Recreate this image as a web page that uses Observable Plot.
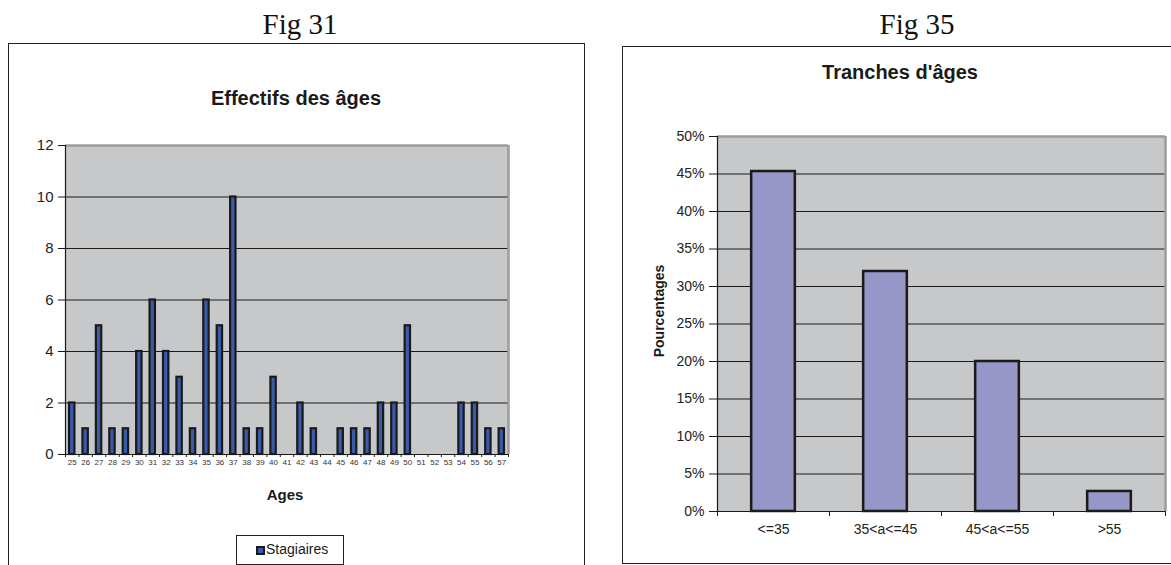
<!DOCTYPE html>
<html><head><meta charset="utf-8">
<script src="https://cdn.jsdelivr.net/npm/d3@7"></script>
<script src="https://cdn.jsdelivr.net/npm/@observablehq/plot@0.6"></script>
<style>
body{margin:0;background:#fff;width:1171px;height:565px;overflow:hidden;position:relative;font-family:"Liberation Sans",Arial,sans-serif;color:#1a1a1a}
.abs{position:absolute;white-space:nowrap}
.c{transform:translate(-50%,-50%)}
.fig{font-family:"Liberation Serif","Times New Roman",serif;font-size:29px;color:#111}
.panel{position:absolute;border:1.5px solid #222;box-sizing:border-box}
.title{font-weight:bold;font-size:20px}
</style></head><body>
<script>
// ---- data ----
const ages = [25,26,27,28,29,30,31,32,33,34,35,36,37,38,39,40,41,42,43,44,45,46,47,48,49,50,51,52,53,54,55,56,57];
const counts = [2,1,5,1,1,4,6,4,3,1,6,5,10,1,1,3,0,2,1,0,1,1,1,2,2,5,0,0,0,2,2,1,1];
const countTicks = [0,2,4,6,8,10,12];
const countGrid = [2,4,6,8,10];
const groups = ["<=35","35<a<=45","45<a<=55",">55"];
const shares = [0.4533,0.32,0.20,0.0267];
const shareTicks = [0,0.05,0.10,0.15,0.20,0.25,0.30,0.35,0.40,0.45,0.50];
const shareGrid = [0.05,0.10,0.15,0.20,0.25,0.30,0.35,0.40,0.45];

const FONT = "Liberation Sans, Arial, sans-serif";
const body = document.body;
function addDiv(cls, text, x, y, extra) {
  const d = document.createElement("div");
  d.className = cls;
  if (text != null) d.textContent = text;
  d.style.left = x + "px"; d.style.top = y + "px";
  if (extra) Object.assign(d.style, extra);
  body.appendChild(d);
  return d;
}

// ---- panels ----
addDiv("panel", null, 8, 43, {width: "577px", height: "540px"});
addDiv("panel", null, 622, 46, {width: "600px", height: "518px"});
addDiv("abs c fig", "Fig 31", 300, 24);
addDiv("abs c fig", "Fig 35", 917, 24);
addDiv("abs c title", "Effectifs des âges", 296, 98);
addDiv("abs c title", "Tranches d'âges", 900, 72);

// ---- left chart ----
const leftData = ages.map((a, i) => ({age: a, count: counts[i]}));
const lo = ages[0] - 0.5, hi = ages[ages.length - 1] + 0.5;
const boundaries = ages.map(a => a - 0.5).concat([hi]);
const left = Plot.plot({
  width: 577, height: 521,
  marginLeft: 57, marginRight: 77, marginTop: 101, marginBottom: 111,
  x: {type: "linear", domain: [lo, hi], label: null},
  y: {domain: [0, 12], label: null},
  style: {fontFamily: FONT, color: "#222", background: "transparent"},
  marks: [
    Plot.frame({fill: "#c7c8ca", stroke: null}),
    Plot.gridY(countGrid, {stroke: "#1a1a1a", strokeOpacity: 1, strokeWidth: 1.2}),
    Plot.ruleY([12], {stroke: "#9c9c9c", strokeWidth: 2.5}),
    Plot.ruleX([hi], {stroke: "#9c9c9c", strokeWidth: 2.5}),
    Plot.rectY(leftData.filter(d => d.count > 0), {
      x1: d => d.age - 0.2, x2: d => d.age + 0.2, y: "count",
      fill: "#3a5bab", stroke: "#1a1a1a", strokeWidth: 2.2
    }),
    Plot.ruleX([lo], {stroke: "#1a1a1a", strokeWidth: 1.2}),
    Plot.ruleY([0], {stroke: "#1a1a1a", strokeWidth: 1.2}),
    Plot.axisY(countTicks, {tickSize: 7, tickPadding: 5, fontSize: 15, stroke: "#1a1a1a", label: null}),
    Plot.axisX(ages, {tickSize: 0, tickPadding: 5, fontSize: 8, fill: "#333", label: null, tickFormat: d => String(d)}),
    Plot.axisX(boundaries, {tickSize: 3, tickFormat: () => "", stroke: "#1a1a1a", label: null})
  ]
});
left.style.position = "absolute"; left.style.left = "8px"; left.style.top = "44px";
body.appendChild(left);
addDiv("abs c", "Ages", 285, 494, {fontWeight: "bold", fontSize: "15px"});
const leg = addDiv("abs", null, 236, 535, {width: "108px", height: "30px", border: "1px solid #222", boxSizing: "border-box", background: "#fff"});
const sw = document.createElement("span");
Object.assign(sw.style, {position: "absolute", left: "19px", top: "10px", width: "5px", height: "5px", background: "#3a5bab", border: "2px solid #1a1a1a"});
leg.appendChild(sw);
const lt = document.createElement("span");
lt.textContent = "Stagiaires";
Object.assign(lt.style, {position: "absolute", left: "29px", top: "5px", fontSize: "14px"});
leg.appendChild(lt);

// ---- right chart ----
const rightData = groups.map((g, i) => ({i, group: g, share: shares[i]}));
const idx = groups.map((g, i) => i);
const rb = groups.map((g, i) => i - 0.5).concat([groups.length - 0.5]);
const right = Plot.plot({
  width: 548, height: 517,
  marginLeft: 94, marginRight: 6, marginTop: 89, marginBottom: 53,
  x: {type: "linear", domain: [-0.5, groups.length - 0.5], label: null},
  y: {domain: [0, 0.5], label: null},
  style: {fontFamily: FONT, color: "#222", background: "transparent"},
  marks: [
    Plot.frame({fill: "#c7c8ca", stroke: null}),
    Plot.gridY(shareGrid, {stroke: "#1a1a1a", strokeOpacity: 1, strokeWidth: 1.2}),
    Plot.ruleY([0.5], {stroke: "#9c9c9c", strokeWidth: 2.5}),
    Plot.ruleX([groups.length - 0.5], {stroke: "#9c9c9c", strokeWidth: 2.5}),
    Plot.rectY(rightData, {
      x1: d => d.i - 0.195, x2: d => d.i + 0.195, y: "share",
      fill: "#9696c8", stroke: "#1a1a1a", strokeWidth: 2.5
    }),
    Plot.ruleX([-0.5], {stroke: "#1a1a1a", strokeWidth: 1.2}),
    Plot.ruleY([0], {stroke: "#1a1a1a", strokeWidth: 1.2}),
    Plot.axisY(shareTicks, {tickSize: 8, tickPadding: 5, fontSize: 14, stroke: "#1a1a1a", label: null, tickFormat: d3.format(".0%")}),
    Plot.axisX(idx, {tickSize: 0, tickPadding: 13, fontSize: 14, label: null, tickFormat: i => groups[i]}),
    Plot.axisX(rb, {tickSize: 5, tickFormat: () => "", stroke: "#1a1a1a", label: null})
  ]
});
right.style.position = "absolute"; right.style.left = "623px"; right.style.top = "47px";
body.appendChild(right);
addDiv("abs c", "Pourcentages", 659, 311, {fontWeight: "bold", fontSize: "14px", transform: "translate(-50%,-50%) rotate(-90deg)"});
</script>
</body></html>
